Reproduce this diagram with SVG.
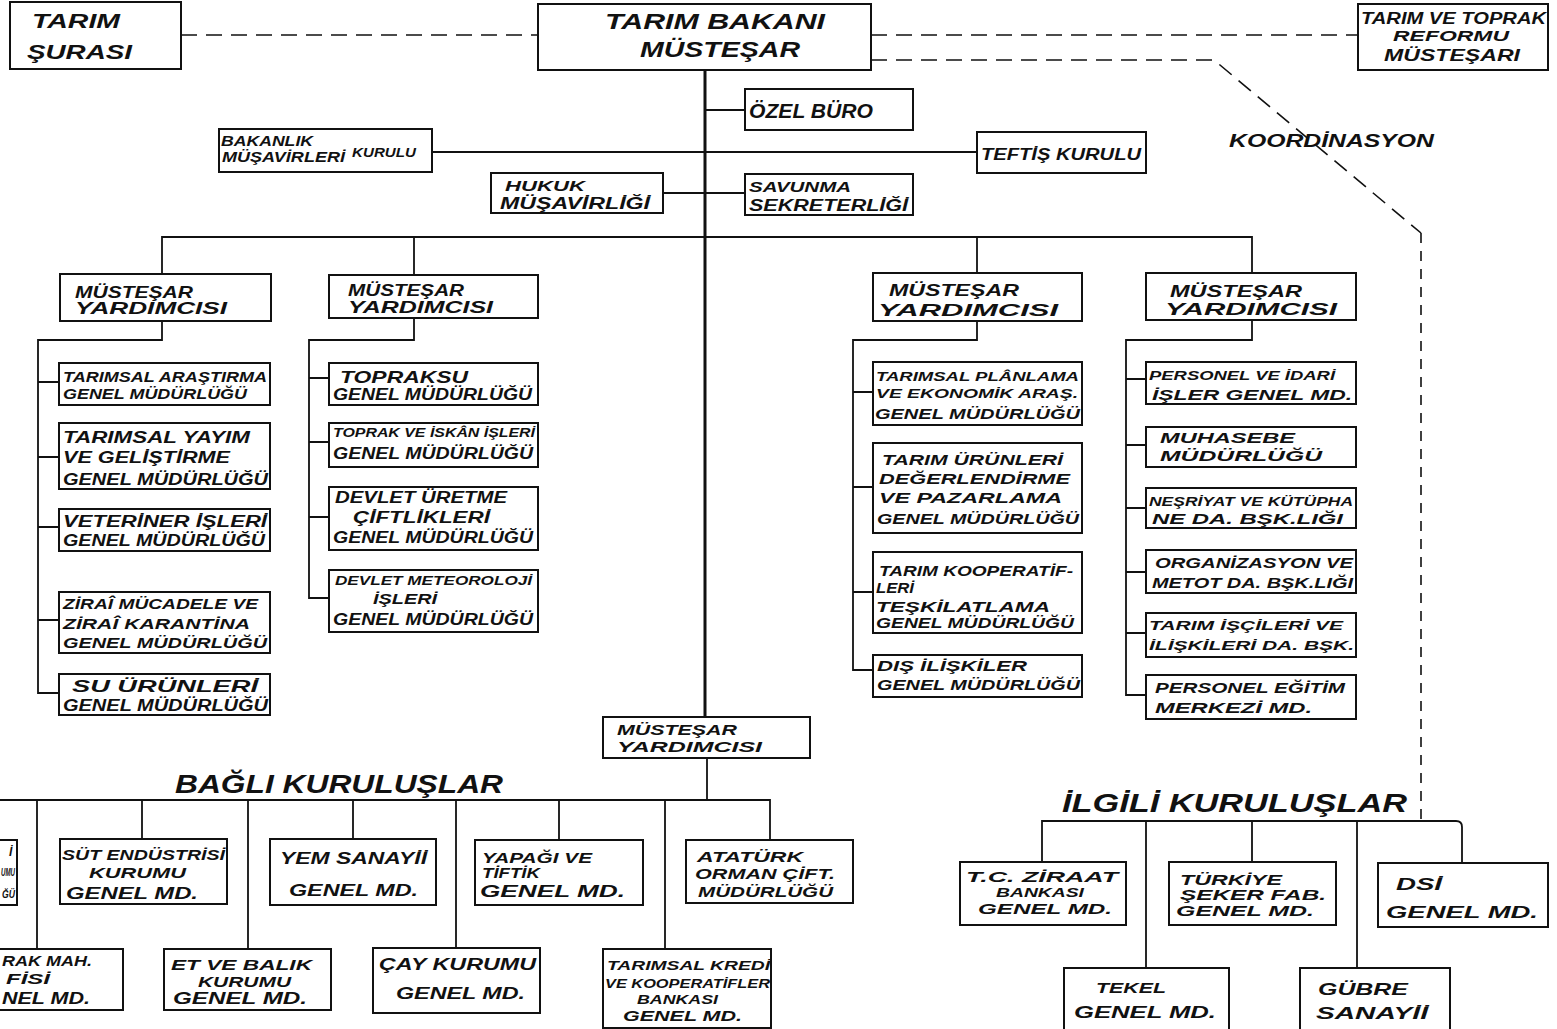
<svg xmlns="http://www.w3.org/2000/svg" width="1557" height="1029" viewBox="0 0 1557 1029">
<style>
.b{fill:#fff;stroke:#111;stroke-width:2}
.t{font-family:"Liberation Sans","DejaVu Sans",sans-serif;font-weight:bold;font-style:italic;fill:#111}
.f10{font-size:10px}.f12{font-size:12px}.f13{font-size:13px}.f14{font-size:14px}.f15{font-size:15px}.f16{font-size:16px}.f17{font-size:17px}.f18{font-size:18px}.f20{font-size:20px}.f22{font-size:22px}.f24{font-size:25px}
.c{fill:none;stroke:#111;stroke-width:1.8}
.sp{fill:none;stroke:#111;stroke-width:3}
.d{fill:none;stroke:#111;stroke-width:1.6;stroke-dasharray:16 9}
.dv{fill:none;stroke:#111;stroke-width:1.6;stroke-dasharray:10 8}
</style>
<rect x="0" y="0" width="1557" height="1029" fill="#fff"/>

<g id="connectors">
  <path class="d" d="M181 35 H538"/>
  <path class="d" d="M871 35 H1358"/>
  <path class="d" d="M871 60 H1214 L1421 233"/>
  <path class="dv" d="M1421 233 V821"/>
  <text class="t f18" x="1229" y="147" textLength="205" lengthAdjust="spacingAndGlyphs">KOORDİNASYON</text>
  <path class="sp" d="M705 70 V717"/>
  <path class="c" d="M705 110 H745"/>
  <path class="c" d="M432 152 H977"/>
  <path class="c" d="M663 193 H745"/>
  <path class="c" d="M162 274 V237 H1252 V273"/>
  <path class="c" d="M414 237 V275"/>
  <path class="c" d="M977 237 V273"/>
  <path class="c" d="M162 321 V340 H38 V693 H59"/>
  <path class="c" d="M38 382 H59 M38 457 H59 M38 527 H59 M38 620 H59"/>
  <path class="c" d="M414 318 V340 H309 V598 H329"/>
  <path class="c" d="M309 378 H329 M309 442 H329 M309 517 H329"/>
  <path class="c" d="M977 321 V340 H853 V670 H873"/>
  <path class="c" d="M853 392 H873 M853 487 H873 M853 592 H873"/>
  <path class="c" d="M1252 320 V340 H1126 V695 H1146"/>
  <path class="c" d="M1126 379 H1146 M1126 445 H1146 M1126 508 H1146 M1126 572 H1146 M1126 633 H1146"/>
  <path class="c" d="M707 758 V800"/>
  <path class="c" d="M0 800 H770 V840"/>
  <path class="c" d="M37 800 V949 M142 800 V839 M248 800 V949 M353 800 V839 M456 800 V948 M559 800 V840 M665 800 V949"/>
  <path class="c" d="M1042 862 V821 H1456 Q1462 821 1462 827 V863"/>
  <path class="c" d="M1146 821 V968 M1252 821 V862 M1357 821 V968"/>
</g>

<g id="n-sura"><rect class="b" x="10" y="2" width="171" height="67"/>
<text class="t f20" x="32" y="28" textLength="88" lengthAdjust="spacingAndGlyphs">TARIM</text>
<text class="t f20" x="27" y="59" textLength="105" lengthAdjust="spacingAndGlyphs">ŞURASI</text></g>

<g id="n-bakan"><rect class="b" x="538" y="4" width="333" height="66"/>
<text class="t f22" x="605" y="29" textLength="220" lengthAdjust="spacingAndGlyphs">TARIM BAKANI</text>
<text class="t f22" x="640" y="57" textLength="160" lengthAdjust="spacingAndGlyphs">MÜSTEŞAR</text></g>

<g id="n-reform"><rect class="b" x="1358" y="4" width="190" height="66"/>
<text class="t f16" x="1361" y="24" textLength="185" lengthAdjust="spacingAndGlyphs">TARIM VE TOPRAK</text>
<text class="t f15" x="1393" y="41" textLength="116" lengthAdjust="spacingAndGlyphs">REFORMU</text>
<text class="t f16" x="1384" y="61" textLength="136" lengthAdjust="spacingAndGlyphs">MÜSTEŞARI</text></g>

<g id="n-ozel"><rect class="b" x="745" y="89" width="168" height="41"/>
<text class="t f20" x="749" y="118" textLength="124" lengthAdjust="spacingAndGlyphs">ÖZEL BÜRO</text></g>

<g id="n-bmk"><rect class="b" x="219" y="129" width="213" height="43"/>
<text class="t f15" x="221" y="146" textLength="92" lengthAdjust="spacingAndGlyphs">BAKANLIK</text>
<text class="t f15" x="222" y="162" textLength="123" lengthAdjust="spacingAndGlyphs">MÜŞAVİRLERİ</text>
<text class="t f12" x="352" y="157" textLength="64" lengthAdjust="spacingAndGlyphs">KURULU</text></g>

<g id="n-teftis"><rect class="b" x="977" y="132" width="169" height="41"/>
<text class="t f16" x="981" y="160" textLength="160" lengthAdjust="spacingAndGlyphs">TEFTİŞ KURULU</text></g>

<g id="n-hukuk"><rect class="b" x="491" y="173" width="172" height="40"/>
<text class="t f15" x="505" y="191" textLength="80" lengthAdjust="spacingAndGlyphs">HUKUK</text>
<text class="t f16" x="500" y="209" textLength="150" lengthAdjust="spacingAndGlyphs">MÜŞAVİRLİĞİ</text></g>

<g id="n-savunma"><rect class="b" x="745" y="174" width="168" height="41"/>
<text class="t f15" x="749" y="192" textLength="102" lengthAdjust="spacingAndGlyphs">SAVUNMA</text>
<text class="t f16" x="749" y="211" textLength="159" lengthAdjust="spacingAndGlyphs">SEKRETERLİĞİ</text></g>

<g id="n-my1"><rect class="b" x="60" y="274" width="211" height="47"/>
<text class="t f17" x="75" y="298" textLength="118" lengthAdjust="spacingAndGlyphs">MÜSTEŞAR</text>
<text class="t f17" x="75" y="314" textLength="152" lengthAdjust="spacingAndGlyphs">YARDIMCISI</text></g>
<g id="n-my2"><rect class="b" x="329" y="275" width="209" height="43"/>
<text class="t f17" x="348" y="296" textLength="116" lengthAdjust="spacingAndGlyphs">MÜSTEŞAR</text>
<text class="t f17" x="348" y="313" textLength="145" lengthAdjust="spacingAndGlyphs">YARDIMCISI</text></g>
<g id="n-my3"><rect class="b" x="873" y="273" width="209" height="48"/>
<text class="t f17" x="889" y="296" textLength="130" lengthAdjust="spacingAndGlyphs">MÜSTEŞAR</text>
<text class="t f17" x="878" y="316" textLength="180" lengthAdjust="spacingAndGlyphs">YARDIMCISI</text></g>
<g id="n-my4"><rect class="b" x="1146" y="273" width="210" height="47"/>
<text class="t f17" x="1170" y="297" textLength="132" lengthAdjust="spacingAndGlyphs">MÜSTEŞAR</text>
<text class="t f17" x="1165" y="315" textLength="172" lengthAdjust="spacingAndGlyphs">YARDIMCISI</text></g>
<g id="n-my5"><rect class="b" x="603" y="717" width="207" height="41"/>
<text class="t f15" x="617" y="735" textLength="120" lengthAdjust="spacingAndGlyphs">MÜSTEŞAR</text>
<text class="t f15" x="617" y="752" textLength="145" lengthAdjust="spacingAndGlyphs">YARDIMCISI</text></g>

<g id="n-c1a"><rect class="b" x="59" y="363" width="211" height="42"/>
<text class="t f14" x="63" y="382" textLength="204" lengthAdjust="spacingAndGlyphs">TARIMSAL ARAŞTIRMA</text>
<text class="t f15" x="63" y="399" textLength="184" lengthAdjust="spacingAndGlyphs">GENEL MÜDÜRLÜĞÜ</text></g>
<g id="n-c1b"><rect class="b" x="59" y="423" width="211" height="66"/>
<text class="t f16" x="63" y="443" textLength="187" lengthAdjust="spacingAndGlyphs">TARIMSAL YAYIM</text>
<text class="t f16" x="63" y="463" textLength="167" lengthAdjust="spacingAndGlyphs">VE GELİŞTİRME</text>
<text class="t f16" x="63" y="485" textLength="205" lengthAdjust="spacingAndGlyphs">GENEL MÜDÜRLÜĞÜ</text></g>
<g id="n-c1c"><rect class="b" x="59" y="509" width="211" height="42"/>
<text class="t f16" x="63" y="527" textLength="204" lengthAdjust="spacingAndGlyphs">VETERİNER İŞLERİ</text>
<text class="t f16" x="63" y="546" textLength="202" lengthAdjust="spacingAndGlyphs">GENEL MÜDÜRLÜĞÜ</text></g>
<g id="n-c1d"><rect class="b" x="59" y="592" width="211" height="61"/>
<text class="t f15" x="63" y="609" textLength="195" lengthAdjust="spacingAndGlyphs">ZİRAÎ MÜCADELE VE</text>
<text class="t f15" x="63" y="629" textLength="187" lengthAdjust="spacingAndGlyphs">ZİRAÎ KARANTİNA</text>
<text class="t f15" x="63" y="648" textLength="204" lengthAdjust="spacingAndGlyphs">GENEL MÜDÜRLÜĞÜ</text></g>
<g id="n-c1e"><rect class="b" x="59" y="674" width="211" height="41"/>
<text class="t f16" x="72" y="692" textLength="186" lengthAdjust="spacingAndGlyphs">SU ÜRÜNLERİ</text>
<text class="t f16" x="63" y="711" textLength="205" lengthAdjust="spacingAndGlyphs">GENEL MÜDÜRLÜĞÜ</text></g>

<g id="n-c2a"><rect class="b" x="329" y="363" width="209" height="42"/>
<text class="t f17" x="340" y="383" textLength="128" lengthAdjust="spacingAndGlyphs">TOPRAKSU</text>
<text class="t f16" x="333" y="400" textLength="199" lengthAdjust="spacingAndGlyphs">GENEL MÜDÜRLÜĞÜ</text></g>
<g id="n-c2b"><rect class="b" x="329" y="423" width="209" height="44"/>
<text class="t f12" x="333" y="437" textLength="202" lengthAdjust="spacingAndGlyphs">TOPRAK VE İSKÂN İŞLERİ</text>
<text class="t f16" x="333" y="459" textLength="200" lengthAdjust="spacingAndGlyphs">GENEL MÜDÜRLÜĞÜ</text></g>
<g id="n-c2c"><rect class="b" x="329" y="487" width="209" height="63"/>
<text class="t f16" x="335" y="503" textLength="172" lengthAdjust="spacingAndGlyphs">DEVLET ÜRETME</text>
<text class="t f16" x="353" y="523" textLength="137" lengthAdjust="spacingAndGlyphs">ÇİFTLİKLERİ</text>
<text class="t f16" x="333" y="543" textLength="200" lengthAdjust="spacingAndGlyphs">GENEL MÜDÜRLÜĞÜ</text></g>
<g id="n-c2d"><rect class="b" x="329" y="570" width="209" height="62"/>
<text class="t f13" x="335" y="585" textLength="197" lengthAdjust="spacingAndGlyphs">DEVLET METEOROLOJİ</text>
<text class="t f15" x="373" y="604" textLength="64" lengthAdjust="spacingAndGlyphs">İŞLERİ</text>
<text class="t f16" x="333" y="625" textLength="200" lengthAdjust="spacingAndGlyphs">GENEL MÜDÜRLÜĞÜ</text></g>

<g id="n-c3a"><rect class="b" x="873" y="362" width="209" height="63"/>
<text class="t f13" x="876" y="381" textLength="203" lengthAdjust="spacingAndGlyphs">TARIMSAL PLÂNLAMA</text>
<text class="t f13" x="876" y="398" textLength="202" lengthAdjust="spacingAndGlyphs">VE EKONOMİK ARAŞ.</text>
<text class="t f15" x="875" y="419" textLength="205" lengthAdjust="spacingAndGlyphs">GENEL MÜDÜRLÜĞÜ</text></g>
<g id="n-c3b"><rect class="b" x="873" y="443" width="209" height="90"/>
<text class="t f15" x="882" y="465" textLength="181" lengthAdjust="spacingAndGlyphs">TARIM ÜRÜNLERİ</text>
<text class="t f15" x="879" y="484" textLength="191" lengthAdjust="spacingAndGlyphs">DEĞERLENDİRME</text>
<text class="t f15" x="879" y="503" textLength="183" lengthAdjust="spacingAndGlyphs">VE PAZARLAMA</text>
<text class="t f15" x="877" y="524" textLength="202" lengthAdjust="spacingAndGlyphs">GENEL MÜDÜRLÜĞÜ</text></g>
<g id="n-c3c"><rect class="b" x="873" y="552" width="209" height="81"/>
<text class="t f14" x="879" y="576" textLength="194" lengthAdjust="spacingAndGlyphs">TARIM KOOPERATİF-</text>
<text class="t f14" x="876" y="593" textLength="38" lengthAdjust="spacingAndGlyphs">LERİ</text>
<text class="t f14" x="876" y="612" textLength="174" lengthAdjust="spacingAndGlyphs">TEŞKİLATLAMA</text>
<text class="t f14" x="876" y="628" textLength="198" lengthAdjust="spacingAndGlyphs">GENEL MÜDÜRLÜĞÜ</text></g>
<g id="n-c3d"><rect class="b" x="873" y="655" width="209" height="42"/>
<text class="t f15" x="877" y="671" textLength="150" lengthAdjust="spacingAndGlyphs">DIŞ İLİŞKİLER</text>
<text class="t f15" x="877" y="690" textLength="203" lengthAdjust="spacingAndGlyphs">GENEL MÜDÜRLÜĞÜ</text></g>

<g id="n-c4a"><rect class="b" x="1146" y="362" width="210" height="42"/>
<text class="t f13" x="1149" y="380" textLength="186" lengthAdjust="spacingAndGlyphs">PERSONEL VE İDARİ</text>
<text class="t f14" x="1152" y="400" textLength="200" lengthAdjust="spacingAndGlyphs">İŞLER GENEL MD.</text></g>
<g id="n-c4b"><rect class="b" x="1146" y="427" width="210" height="40"/>
<text class="t f15" x="1160" y="443" textLength="135" lengthAdjust="spacingAndGlyphs">MUHASEBE</text>
<text class="t f15" x="1160" y="461" textLength="162" lengthAdjust="spacingAndGlyphs">MÜDÜRLÜĞÜ</text></g>
<g id="n-c4c"><rect class="b" x="1146" y="488" width="210" height="40"/>
<text class="t f12" x="1149" y="506" textLength="204" lengthAdjust="spacingAndGlyphs">NEŞRİYAT VE KÜTÜPHA</text>
<text class="t f14" x="1152" y="524" textLength="191" lengthAdjust="spacingAndGlyphs">NE DA. BŞK.LIĞI</text></g>
<g id="n-c4d"><rect class="b" x="1146" y="550" width="210" height="43"/>
<text class="t f14" x="1155" y="568" textLength="198" lengthAdjust="spacingAndGlyphs">ORGANİZASYON VE</text>
<text class="t f14" x="1152" y="588" textLength="201" lengthAdjust="spacingAndGlyphs">METOT DA. BŞK.LIĞI</text></g>
<g id="n-c4e"><rect class="b" x="1146" y="613" width="210" height="44"/>
<text class="t f13" x="1149" y="630" textLength="194" lengthAdjust="spacingAndGlyphs">TARIM İŞÇİLERİ VE</text>
<text class="t f13" x="1149" y="650" textLength="205" lengthAdjust="spacingAndGlyphs">İLİŞKİLERİ DA. BŞK.</text></g>
<g id="n-c4f"><rect class="b" x="1146" y="675" width="210" height="44"/>
<text class="t f15" x="1155" y="693" textLength="190" lengthAdjust="spacingAndGlyphs">PERSONEL EĞİTİM</text>
<text class="t f15" x="1155" y="713" textLength="157" lengthAdjust="spacingAndGlyphs">MERKEZİ MD.</text></g>

<text id="lbl-bagli" class="t f24" x="175" y="793" textLength="328" lengthAdjust="spacingAndGlyphs">BAĞLI KURULUŞLAR</text>

<g id="n-b0"><rect class="b" x="-5" y="840" width="22" height="65"/>
<text class="t f12" x="9" y="856">İ</text>
<text class="t f10" x="1" y="876" textLength="14" lengthAdjust="spacingAndGlyphs">UMU</text>
<text class="t f10" x="2" y="898" textLength="13" lengthAdjust="spacingAndGlyphs">ĞÜ</text></g>
<g id="n-b1"><rect class="b" x="60" y="839" width="167" height="65"/>
<text class="t f14" x="62" y="860" textLength="163" lengthAdjust="spacingAndGlyphs">SÜT ENDÜSTRİSİ</text>
<text class="t f14" x="89" y="878" textLength="97" lengthAdjust="spacingAndGlyphs">KURUMU</text>
<text class="t f16" x="66" y="899" textLength="132" lengthAdjust="spacingAndGlyphs">GENEL MD.</text></g>
<g id="n-b2"><rect class="b" x="270" y="839" width="166" height="66"/>
<text class="t f16" x="280" y="864" textLength="147" lengthAdjust="spacingAndGlyphs">YEM SANAYİİ</text>
<text class="t f16" x="289" y="896" textLength="129" lengthAdjust="spacingAndGlyphs">GENEL MD.</text></g>
<g id="n-b3"><rect class="b" x="475" y="840" width="168" height="65"/>
<text class="t f15" x="482" y="863" textLength="110" lengthAdjust="spacingAndGlyphs">YAPAĞI VE</text>
<text class="t f15" x="482" y="878" textLength="58" lengthAdjust="spacingAndGlyphs">TİFTİK</text>
<text class="t f16" x="480" y="897" textLength="145" lengthAdjust="spacingAndGlyphs">GENEL MD.</text></g>
<g id="n-b4"><rect class="b" x="686" y="840" width="167" height="63"/>
<text class="t f15" x="697" y="862" textLength="106" lengthAdjust="spacingAndGlyphs">ATATÜRK</text>
<text class="t f14" x="695" y="879" textLength="140" lengthAdjust="spacingAndGlyphs">ORMAN ÇİFT.</text>
<text class="t f14" x="698" y="897" textLength="135" lengthAdjust="spacingAndGlyphs">MÜDÜRLÜĞÜ</text></g>
<g id="n-b5"><rect class="b" x="-5" y="949" width="128" height="61"/>
<text class="t f15" x="2" y="966" textLength="90" lengthAdjust="spacingAndGlyphs">RAK MAH.</text>
<text class="t f15" x="6" y="984" textLength="44" lengthAdjust="spacingAndGlyphs">FİSİ</text>
<text class="t f16" x="2" y="1004" textLength="88" lengthAdjust="spacingAndGlyphs">NEL MD.</text></g>
<g id="n-b6"><rect class="b" x="164" y="949" width="167" height="61"/>
<text class="t f15" x="171" y="970" textLength="141" lengthAdjust="spacingAndGlyphs">ET VE BALIK</text>
<text class="t f14" x="198" y="987" textLength="93" lengthAdjust="spacingAndGlyphs">KURUMU</text>
<text class="t f16" x="173" y="1004" textLength="134" lengthAdjust="spacingAndGlyphs">GENEL MD.</text></g>
<g id="n-b7"><rect class="b" x="373" y="948" width="167" height="65"/>
<text class="t f16" x="379" y="970" textLength="157" lengthAdjust="spacingAndGlyphs">ÇAY KURUMU</text>
<text class="t f16" x="396" y="999" textLength="129" lengthAdjust="spacingAndGlyphs">GENEL MD.</text></g>
<g id="n-b8"><rect class="b" x="603" y="949" width="168" height="79"/>
<text class="t f13" x="607" y="970" textLength="163" lengthAdjust="spacingAndGlyphs">TARIMSAL KREDİ</text>
<text class="t f13" x="605" y="988" textLength="165" lengthAdjust="spacingAndGlyphs">VE KOOPERATİFLER</text>
<text class="t f13" x="637" y="1004" textLength="81" lengthAdjust="spacingAndGlyphs">BANKASI</text>
<text class="t f14" x="623" y="1021" textLength="119" lengthAdjust="spacingAndGlyphs">GENEL MD.</text></g>

<text id="lbl-ilgili" class="t f24" x="1062" y="812" textLength="345" lengthAdjust="spacingAndGlyphs">İLGİLİ KURULUŞLAR</text>

<g id="n-i1"><rect class="b" x="960" y="862" width="166" height="63"/>
<text class="t f15" x="966" y="882" textLength="152" lengthAdjust="spacingAndGlyphs">T.C. ZİRAAT</text>
<text class="t f13" x="996" y="897" textLength="88" lengthAdjust="spacingAndGlyphs">BANKASI</text>
<text class="t f15" x="978" y="914" textLength="134" lengthAdjust="spacingAndGlyphs">GENEL MD.</text></g>
<g id="n-i2"><rect class="b" x="1169" y="862" width="167" height="63"/>
<text class="t f14" x="1180" y="885" textLength="102" lengthAdjust="spacingAndGlyphs">TÜRKİYE</text>
<text class="t f14" x="1180" y="900" textLength="146" lengthAdjust="spacingAndGlyphs">ŞEKER FAB.</text>
<text class="t f15" x="1176" y="916" textLength="138" lengthAdjust="spacingAndGlyphs">GENEL MD.</text></g>
<g id="n-i3"><rect class="b" x="1378" y="863" width="170" height="64"/>
<text class="t f17" x="1396" y="890" textLength="46" lengthAdjust="spacingAndGlyphs">DSİ</text>
<text class="t f17" x="1386" y="918" textLength="152" lengthAdjust="spacingAndGlyphs">GENEL MD.</text></g>
<g id="n-i4"><rect class="b" x="1064" y="968" width="165" height="64"/>
<text class="t f15" x="1096" y="993" textLength="70" lengthAdjust="spacingAndGlyphs">TEKEL</text>
<text class="t f17" x="1074" y="1018" textLength="142" lengthAdjust="spacingAndGlyphs">GENEL MD.</text></g>
<g id="n-i5"><rect class="b" x="1300" y="968" width="150" height="64"/>
<text class="t f17" x="1318" y="995" textLength="90" lengthAdjust="spacingAndGlyphs">GÜBRE</text>
<text class="t f17" x="1316" y="1019" textLength="112" lengthAdjust="spacingAndGlyphs">SANAYİİ</text></g>
</svg>
